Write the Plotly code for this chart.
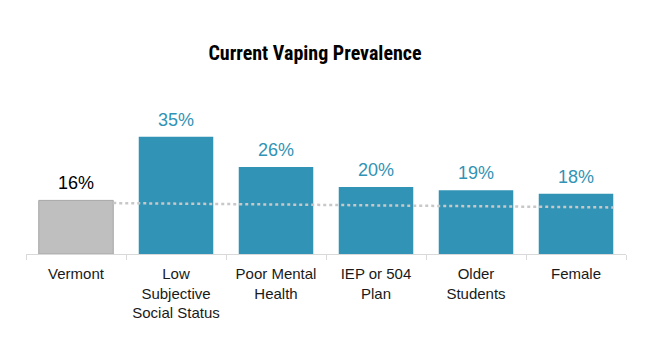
import plotly.graph_objects as go

categories = ["Vermont", "Low<br>Subjective<br>Social Status", "Poor Mental<br>Health",
              "IEP or 504<br>Plan", "Older<br>Students", "Female"]
values = [16, 35, 26, 20, 19, 18]
labels = ["16%", "35%", "26%", "20%", "19%", "18%"]
reference_line = [15.2, 13.9]  # dotted reference line, start and end values

TEAL = "#3193b5"
GREY = "#bfbfbf"
FONT = "Liberation Sans, Arial, sans-serif"
TITLE_FONT = "Liberation Sans Narrow, Arial Narrow, Roboto Condensed, Liberation Sans, sans-serif"

bar_w = 0.745
xs = list(range(len(categories)))
colors = [GREY] + [TEAL] * (len(categories) - 1)
text_colors = ["#000000"] + [TEAL] * (len(categories) - 1)
line_colors = ["#a6a6a6"] + [TEAL] * (len(categories) - 1)

fig = go.Figure()
fig.add_trace(go.Bar(
    x=xs, y=values, width=bar_w,
    marker=dict(color=colors, line=dict(color=line_colors, width=[1, 0, 0, 0, 0, 0])),
    hoverinfo="skip",
))
fig.add_trace(go.Scatter(
    x=[xs[0] + bar_w / 2, xs[-1] + bar_w / 2], y=reference_line,
    mode="lines", line=dict(color="#c8c8c8", width=2.5, dash="dot"),
    hoverinfo="skip",
))
for x, v, t, c in zip(xs, values, labels, text_colors):
    fig.add_annotation(x=x, y=v, text=t, showarrow=False, yanchor="middle", yshift=17,
                       font=dict(family=FONT, size=18, color=c))

fig.update_layout(
    width=647, height=362,
    margin=dict(l=18, r=29, t=112, b=116),
    paper_bgcolor="white", plot_bgcolor="white",
    showlegend=False,
    title=dict(text="<b>Current Vaping Prevalence</b>", x=(315 - 8) / 647, xanchor="center",
               y=1 - 45 / 362, yanchor="middle",
               font=dict(family=TITLE_FONT, size=20, color="#000000")),
    font=dict(family=FONT, size=15, color="#1a1a1a"),
)
fig.update_xaxes(
    range=[-0.5, len(categories) - 0.5],
    tickvals=xs, ticktext=categories, ticks="", ticklabelstandoff=6,
    showline=True, linecolor="#d9d9d9", linewidth=1,
    showgrid=False, zeroline=False,
    tickfont=dict(family=FONT, size=15, color="#1a1a1a"),
    minor=dict(tick0=-0.5, dtick=1, ticks="outside", ticklen=5, tickcolor="#d9d9d9", tickwidth=1),
)
fig.update_yaxes(range=[0, 40], visible=False)

fig.write_html("out.html")
